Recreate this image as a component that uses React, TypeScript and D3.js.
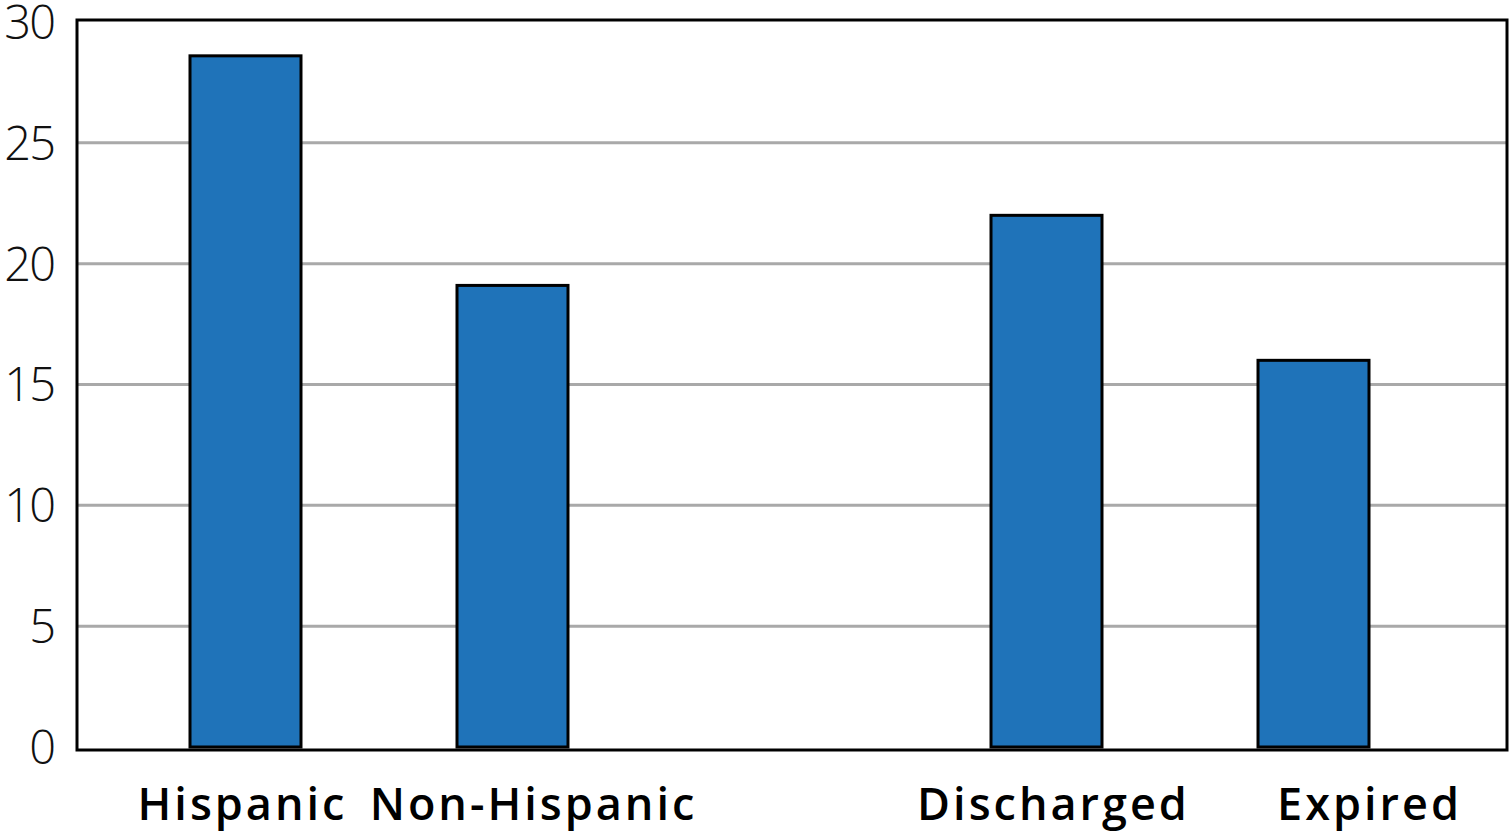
import React from "react";
import * as d3 from "d3";

const categories = ["Hispanic", "Non-Hispanic", "", "Discharged", "Expired"];
const values = [28.6, 19.1, null, 22.0, 16.0];
const yTicks = [0, 5, 10, 15, 20, 25, 30];
// layout: horizontal nudge of each label relative to its bar centre
const labelOffsets = [-3, 21, 0, 7, 56];

const W = 1510;
const H = 840;
const frame = { left: 77, right: 1507, top: 20, bottom: 750 };

export default function App() {
  const x = d3
    .scaleBand<string>()
    .domain(categories.map((c, i) => String(i)))
    .range([109.9, 1449.1])
    .paddingInner(0.5843)
    .paddingOuter(0.3);
  const y = d3.scaleLinear().domain([0, 30]).range([747, 22]);

  return (
    <svg
      width={W}
      height={H}
      style={{ position: "absolute", left: 0, top: 0, background: "#fff" }}
    >
      {yTicks
        .filter((t) => t > 0 && t < 30)
        .map((t) => (
          <line
            key={t}
            x1={frame.left}
            x2={frame.right}
            y1={y(t)}
            y2={y(t)}
            stroke="#a9a9a9"
            strokeWidth={3}
          />
        ))}
      {yTicks.map((t) => (
        <text
          key={"l" + t}
          x={54}
          y={y(t)}
          dy="0.36em"
          textAnchor="end"
          fontFamily="'Open Sans', sans-serif"
          fontWeight={300}
          fontSize={47}
          letterSpacing={-2}
          fill="#111"
        >
          {t}
        </text>
      ))}
      {values.map((v, i) =>
        v == null ? null : (
          <rect
            key={"b" + i}
            x={x(String(i))}
            y={y(v)}
            width={x.bandwidth()}
            height={y(0) - y(v)}
            fill="#1f73b9"
            stroke="#000"
            strokeWidth={3}
          />
        )
      )}
      <rect
        x={frame.left}
        y={frame.top}
        width={frame.right - frame.left}
        height={frame.bottom - frame.top}
        fill="none"
        stroke="#000"
        strokeWidth={3}
      />
      {categories.map((c, i) =>
        c ? (
          <text
            key={"c" + i}
            x={(x(String(i)) as number) + x.bandwidth() / 2 + labelOffsets[i]}
            y={820}
            textAnchor="middle"
            fontFamily="'Open Sans', sans-serif"
            fontWeight={600}
            fontSize={45}
            letterSpacing={3}
            fill="#000"
          >
            {c}
          </text>
        ) : null
      )}
    </svg>
  );
}
